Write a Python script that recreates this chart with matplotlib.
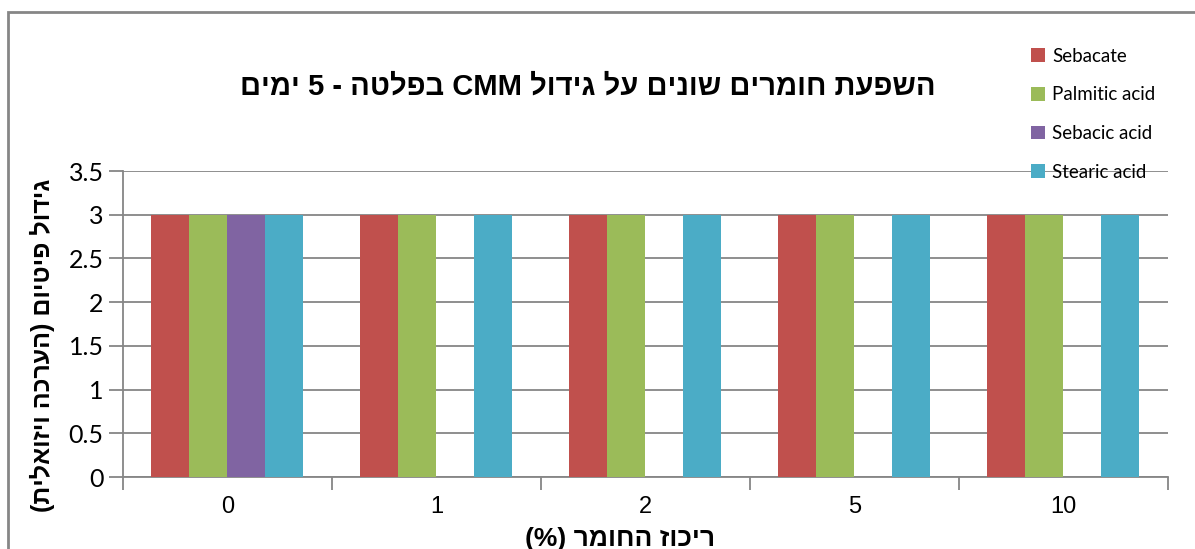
import re
import numpy as np
import matplotlib
matplotlib.use("Agg")
import matplotlib.pyplot as plt
from matplotlib.patches import Rectangle

plt.rcParams['font.family'] = ['Liberation Sans', 'DejaVu Sans']


def rtl(s):
    # matplotlib draws left to right, so flip Hebrew text to visual order
    v = s[::-1]
    v = re.sub(r'[A-Za-z0-9.]+', lambda m: m.group(0)[::-1], v)
    return v.translate(str.maketrans('()', ')('))


categories = ["0", "1", "2", "5", "10"]
series = ["Sebacate", "Palmitic acid", "Sebacic acid", "Stearic acid"]
sebacate = [3, 3, 3, 3, 3]
palmitic = [3, 3, 3, 3, 3]
sebacic = [3, 0, 0, 0, 0]
stearic = [3, 3, 3, 3, 3]
colors = ["#C0504D", "#9BBB59", "#8064A2", "#4BACC6"]

title = "השפעת חומרים שונים על גידול CMM בפלטה - 5 ימים"
xlabel = "ריכוז החומר (%)"
ylabel = "גידול פיטיום (הערכה ויזואלית)"

fig = plt.figure(figsize=(11.95, 5.49), dpi=100)
ax = fig.add_axes([0.1029, 0.1311, 0.8745, 0.5574])

x = np.arange(len(categories))
w = 1 / 5.5
for i, (vals, c, name) in enumerate(zip([sebacate, palmitic, sebacic, stearic], colors, series)):
    ax.bar(x + (i - 1.5) * w, vals, w, color=c, label=name, zorder=3)

gray = "#868686"
ax.set_xlim(-0.5, len(categories) - 0.5)
ax.set_ylim(0, 3.5)
ax.set_yticks(np.arange(0, 3.51, 0.5))
ax.set_yticklabels(["0", "0.5", "1", "1.5", "2", "2.5", "3", "3.5"],
                   fontsize=18, family=['Lato', 'DejaVu Sans'])
ax.set_xticks(x)
ax.set_xticklabels(categories, fontsize=17)
ax.set_xticks(np.arange(-0.5, len(categories)), minor=True)
ax.tick_params(axis='x', which='major', length=0, pad=14)
ax.tick_params(axis='x', which='minor', length=9, color=gray, width=1.3)
ax.tick_params(axis='y', length=10, color=gray, width=1.3, pad=4)
ax.yaxis.grid(True, color=gray, lw=1.3, zorder=0)
for s in ['top', 'right']:
    ax.spines[s].set_visible(False)
for s in ['left', 'bottom']:
    ax.spines[s].set_color(gray)
    ax.spines[s].set_linewidth(1.3)

fig.text(588 / 1195, 1 - 87 / 549, rtl(title), ha='center', va='center',
         fontsize=21, fontweight='bold')
fig.text(620 / 1195, 1 - 539 / 549, rtl(xlabel), ha='center', va='center',
         fontsize=19, fontweight='bold')
fig.text(42 / 1195, 1 - 345 / 549, rtl(ylabel), ha='center', va='center',
         fontsize=18, fontweight='bold', rotation=90)

fig.legend(loc='upper left', bbox_to_anchor=(1014 / 1195, 1 - 31 / 549),
           frameon=False, handlelength=0.75, handleheight=0.75,
           handletextpad=0.4, labelspacing=1.15,
           prop={'family': ['Lato', 'DejaVu Sans'], 'size': 13.5})

fig.add_artist(Rectangle((8 / 1195, -0.1), 1.2, 1 - 12 / 549 + 0.1,
                         transform=fig.transFigure, fill=False,
                         edgecolor=gray, lw=2))

fig.savefig("out.png", dpi=100)
